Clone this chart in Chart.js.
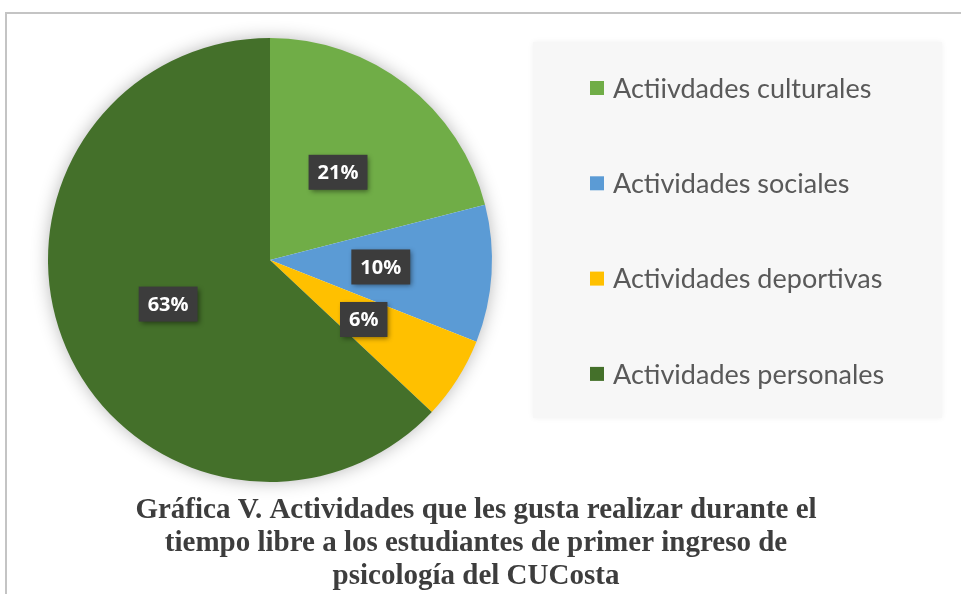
<!DOCTYPE html>
<html>
<head>
<meta charset="utf-8">
<script src="https://cdn.jsdelivr.net/npm/chart.js@4/dist/chart.umd.min.js"></script>
<style>
  html, body { margin: 0; padding: 0; background: #ffffff; }
  #wrap { width: 961px; height: 594px; position: relative; }
</style>
</head>
<body>
<div id="wrap"><canvas id="c" width="961" height="594"></canvas></div>
<script>
const categories = ['Actiivdades culturales', 'Actividades sociales', 'Actividades deportivas', 'Actividades personales'];
const values = [21, 10, 6, 63];
const percentLabels = ['21%', '10%', '6%', '63%'];
const sliceColors = ['#70AD47', '#5B9BD5', '#FFC000', '#44702A'];
const titleLines = [
  'Gráfica V. Actividades que les gusta realizar durante el',
  'tiempo libre a los estudiantes de primer ingreso de',
  'psicología del CUCosta'
];

const framePlugin = {
  id: 'frame',
  beforeDraw(chart) {
    const ctx = chart.ctx;
    ctx.save();
    ctx.fillStyle = '#ffffff';
    ctx.fillRect(0, 0, chart.width, chart.height);
    ctx.strokeStyle = '#c4c4c4';
    ctx.lineWidth = 2;
    ctx.beginPath();
    ctx.moveTo(chart.width, 13);
    ctx.lineTo(6, 13);
    ctx.lineTo(6, chart.height);
    ctx.stroke();
    ctx.fillStyle = '#f7f7f7';
    ctx.shadowColor = 'rgba(0,0,0,0.06)';
    ctx.shadowBlur = 6;
    ctx.fillRect(533, 42, 409, 376);
    ctx.restore();
  },
  beforeDatasetsDraw(chart) {
    const meta = chart.getDatasetMeta(0);
    if (!meta.data.length) return;
    const arc = meta.data[0];
    const ctx = chart.ctx;
    ctx.save();
    ctx.shadowColor = 'rgba(0,0,0,0.3)';
    ctx.shadowBlur = 18;
    ctx.fillStyle = '#ffffff';
    ctx.beginPath();
    ctx.arc(arc.x, arc.y, arc.outerRadius - 1, 0, Math.PI * 2);
    ctx.fill();
    ctx.restore();
  },
  afterDatasetsDraw(chart) {
    const ctx = chart.ctx;
    const meta = chart.getDatasetMeta(0);
    ctx.save();
    ctx.font = 'bold 20px "Open Sans", sans-serif';
    ctx.textAlign = 'center';
    ctx.textBaseline = 'middle';
    meta.data.forEach((arc, i) => {
      const p = arc.getCenterPoint();
      const txt = percentLabels[i];
      const tw = ctx.measureText(txt).width;
      const bw = tw + 18, bh = 35;
      ctx.save();
      ctx.shadowColor = 'rgba(0,0,0,0.45)';
      ctx.shadowBlur = 5;
      ctx.shadowOffsetX = 2;
      ctx.shadowOffsetY = 2;
      ctx.fillStyle = '#3c3c3c';
      ctx.fillRect(p.x - bw / 2, p.y - bh / 2, bw, bh);
      ctx.restore();
      ctx.fillStyle = '#ffffff';
      ctx.fillText(txt, p.x, p.y + 1);
    });
    ctx.restore();
  },
  afterDraw(chart) {
    const ctx = chart.ctx;
    ctx.save();
    ctx.font = '27px Lato, "Open Sans", sans-serif';
    ctx.textBaseline = 'middle';
    ctx.textAlign = 'left';
    const ds = chart.data.datasets[0];
    chart.data.labels.forEach((lab, i) => {
      const cy = 88 + i * 95.3;
      ctx.fillStyle = ds.backgroundColor[i];
      ctx.fillRect(590, cy - 7, 14, 14);
      ctx.fillStyle = '#595959';
      ctx.fillText(lab, 613, cy + 1);
    });
    ctx.restore();
    ctx.save();
    ctx.font = 'bold 29px "Liberation Serif", "Times New Roman", serif';
    ctx.fillStyle = '#3d3d3d';
    ctx.textAlign = 'center';
    ctx.textBaseline = 'alphabetic';
    const sx = 1.0;
    titleLines.forEach((line, i) => {
      ctx.save();
      ctx.translate(476, 518 + i * 33);
      ctx.scale(sx, 1);
      ctx.fillText(line, 0, 0);
      ctx.restore();
    });
    ctx.restore();
  }
};

new Chart(document.getElementById('c'), {
  type: 'pie',
  data: {
    labels: categories,
    datasets: [{
      data: values,
      backgroundColor: sliceColors,
      borderWidth: 0
    }]
  },
  options: {
    responsive: false,
    animation: false,
    devicePixelRatio: 1,
    layout: { padding: { left: 48, right: 469, top: 38, bottom: 112 } },
    plugins: {
      legend: { display: false },
      title: { display: false },
      tooltip: { enabled: false }
    }
  },
  plugins: [framePlugin]
});
</script>
</body>
</html>
